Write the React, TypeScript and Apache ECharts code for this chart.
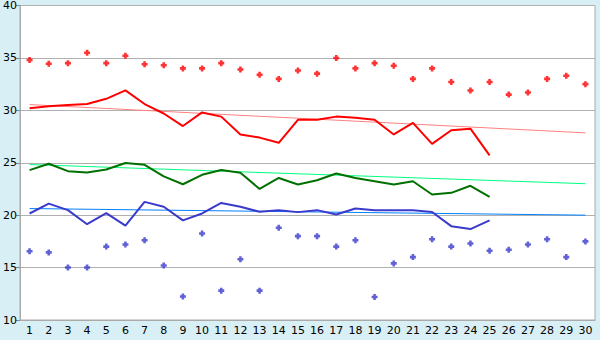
import React, { useEffect, useRef } from "react";
import * as echarts from "echarts";

const days: string[] = Array.from({ length: 30 }, (_, i) => String(i + 1));

const maxPoints: number[] = [
  34.8, 34.45, 34.5, 35.5, 34.5, 35.2, 34.4, 34.3, 34.0, 34.0,
  34.5, 33.9, 33.4, 33.0, 33.8, 33.5, 35.0, 34.0, 34.5, 34.25,
  33.0, 34.0, 32.7, 31.9, 32.7, 31.5, 31.7, 33.0, 33.3, 32.5,
];

const minPoints: number[] = [
  16.55, 16.45, 15.0, 15.0, 17.0, 17.2, 17.6, 15.2, 12.25, 18.25,
  12.8, 15.8, 12.8, 18.8, 18.0, 18.0, 17.0, 17.6, 12.2, 15.4,
  16.0, 17.7, 17.0, 17.3, 16.6, 16.7, 17.2, 17.7, 16.0, 17.5,
];

const maxLine: number[] = [
  30.2, 30.4, 30.5, 30.6, 31.1, 31.9, 30.6, 29.7, 28.5, 29.8,
  29.4, 27.7, 27.4, 26.9, 29.1, 29.1, 29.4, 29.3, 29.1, 27.7,
  28.8, 26.8, 28.1, 28.25, 25.7,
];

const meanLine: number[] = [
  24.3, 24.9, 24.2, 24.07, 24.35, 24.98, 24.8, 23.7, 22.95, 23.85,
  24.3, 24.05, 22.5, 23.55, 22.92, 23.33, 23.97, 23.55, 23.24, 22.92,
  23.24, 21.97, 22.13, 22.8, 21.75,
];

const minLine: number[] = [
  20.16, 21.1, 20.48, 19.14, 20.2, 19.0, 21.27, 20.8, 19.5, 20.16,
  21.17, 20.8, 20.32, 20.48, 20.29, 20.48, 20.06, 20.63, 20.48, 20.48,
  20.48, 20.3, 18.95, 18.67, 19.5,
];

// trend lines: value on day 1 and on day 30
const maxTrend: number[] = [30.55, 27.85];
const meanTrend: number[] = [24.83, 23.0];
const minTrend: number[] = [20.63, 20.0];

const trendData = (t: number[]) =>
  days.map((_, i) => (i === 0 ? t[0] : i === days.length - 1 ? t[1] : null));

const plus = "path://M2 0H5V2H7V5H5V7H2V5H0V2H2Z";

export default function App() {
  const ref = useRef<HTMLDivElement>(null);
  useEffect(() => {
    if (!ref.current) return;
    const chart = echarts.init(ref.current, undefined, { renderer: "svg" });
    const font = "DejaVu Sans";
    chart.setOption({
      animation: false,
      backgroundColor: "#d9eff6",
      textStyle: { fontFamily: font },
      grid: {
        left: 20,
        right: 5,
        top: 5,
        bottom: 20,
        show: true,
        backgroundColor: "#ffffff",
        borderColor: "#aaaaaa",
        borderWidth: 1,
      },
      xAxis: {
        type: "category",
        data: days,
        boundaryGap: true,
        axisLine: { lineStyle: { color: "#aaaaaa", width: 1 } },
        axisTick: { alignWithLabel: true, length: 4, lineStyle: { color: "#888888" } },
        axisLabel: { color: "#000000", fontSize: 11, fontFamily: font, margin: 5, interval: 0 },
        splitLine: { show: false },
      },
      yAxis: {
        type: "value",
        min: 10,
        max: 40,
        interval: 5,
        axisLine: { show: true, lineStyle: { color: "#aaaaaa", width: 1 } },
        axisTick: { show: true, length: 4, lineStyle: { color: "#888888" } },
        axisLabel: { color: "#000000", fontSize: 11, fontFamily: font, margin: 3 },
        splitLine: { show: true, lineStyle: { color: "#b0b0b0", width: 1 } },
      },
      series: [
        {
          type: "scatter",
          data: maxPoints,
          symbol: plus,
          symbolSize: 6,
          itemStyle: { color: "#ff0000" },
        },
        {
          type: "scatter",
          data: minPoints,
          symbol: plus,
          symbolSize: 6,
          itemStyle: { color: "#3a3acc" },
        },
        {
          type: "line",
          data: trendData(maxTrend),
          connectNulls: true,
          showSymbol: false,
          lineStyle: { color: "#ff8080", width: 1 },
        },
        {
          type: "line",
          data: trendData(meanTrend),
          connectNulls: true,
          showSymbol: false,
          lineStyle: { color: "#00ff80", width: 1 },
        },
        {
          type: "line",
          data: trendData(minTrend),
          connectNulls: true,
          showSymbol: false,
          lineStyle: { color: "#0080ff", width: 1 },
        },
        {
          type: "line",
          data: maxLine,
          showSymbol: false,
          lineStyle: { color: "#ff0000", width: 2 },
        },
        {
          type: "line",
          data: meanLine,
          showSymbol: false,
          lineStyle: { color: "#007000", width: 2 },
        },
        {
          type: "line",
          data: minLine,
          showSymbol: false,
          lineStyle: { color: "#3a3acc", width: 2 },
        },
      ],
    });
    return () => chart.dispose();
  }, []);
  return (
    <div
      ref={ref}
      style={{ position: "fixed", left: 0, top: 0, width: 600, height: 340 }}
    />
  );
}
